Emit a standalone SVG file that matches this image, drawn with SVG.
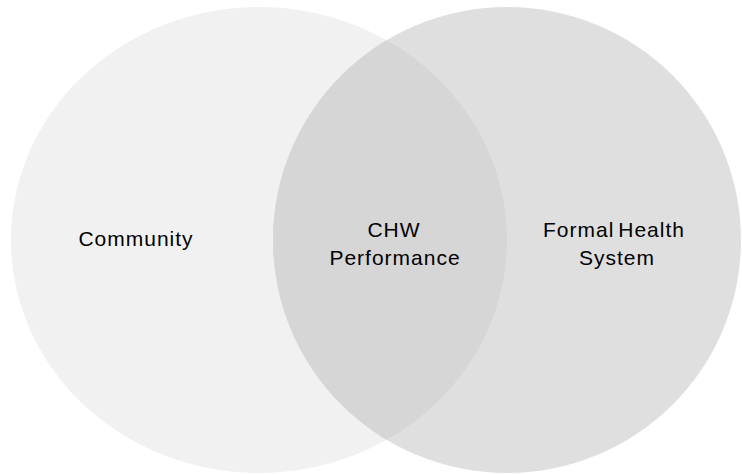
<svg xmlns="http://www.w3.org/2000/svg" width="742" height="475" viewBox="0 0 742 475">
<style>
.lbl{font-family:"Liberation Sans",Arial,sans-serif;font-size:21px;letter-spacing:1px;fill:#000;text-anchor:middle}
</style>
<defs>
<clipPath id="clipL"><ellipse cx="259" cy="240" rx="248" ry="233"/></clipPath>
</defs>
<rect width="742" height="475" fill="#fff"/>
<g id="community">
<ellipse cx="259" cy="240" rx="248" ry="233" fill="#f1f1f1"/>
</g>
<g id="formal-health-system">
<ellipse cx="507" cy="240" rx="234" ry="233" fill="#dfdfdf"/>
</g>
<g id="chw-performance">
<ellipse cx="507" cy="240" rx="234" ry="233" fill="#d6d6d6" clip-path="url(#clipL)"/>
</g>
<g id="labels">
<text class="lbl" x="136" y="246">Community</text>
<text class="lbl" x="394" y="237">CHW</text>
<text class="lbl" x="395" y="265">Performance</text>
<text class="lbl" x="614" y="237" word-spacing="-3">Formal Health</text>
<text class="lbl" x="617" y="265">System</text>
</g>
<g id="connectors"></g>
</svg>
